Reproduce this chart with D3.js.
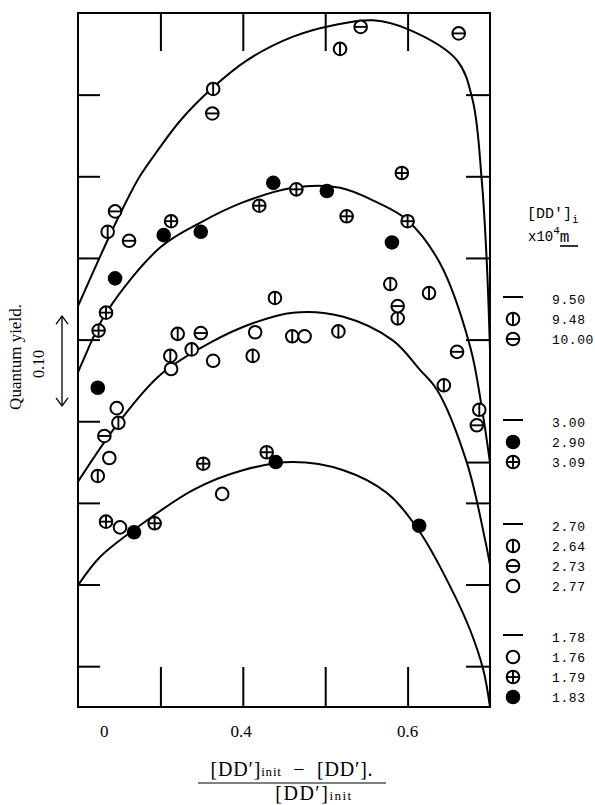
<!DOCTYPE html>
<html><head><meta charset="utf-8">
<script src="https://cdn.jsdelivr.net/npm/d3@7"></script>
<style>body{margin:0;background:#fff}svg{display:block}</style>
</head><body><svg id="c" width="595" height="805"></svg>
<script>
// ---- data (x = fraction reacted, y = quantum yield, arbitrary offset) ----
const xTicks = [0.2, 0.3, 0.4, 0.5, 0.6, 0.7];
const yTicksLeft = [0.05, 0.15, 0.25, 0.35, 0.45, 0.55, 0.65, 0.75];
const yTicksRight = [0.05, 0.15, 0.25, 0.30, 0.45, 0.55, 0.65, 0.75];
const xTickLabels = ["0", "0.4", "0.6"];
const xTickLabelAt = [0.232, 0.398, 0.6];

const curve950 = [[0.200,0.491],[0.236,0.572],[0.257,0.616],[0.275,0.650],[0.297,0.682],[0.324,0.718],[0.363,0.758],[0.405,0.792],[0.461,0.821],[0.510,0.835],[0.558,0.841],[0.603,0.829],[0.660,0.792],[0.679,0.743],[0.690,0.645],[0.696,0.547],[0.700,0.437]];
const curve300 = [[0.200,0.410],[0.206,0.424],[0.235,0.484],[0.300,0.563],[0.348,0.593],[0.400,0.618],[0.461,0.636],[0.518,0.636],[0.563,0.618],[0.600,0.596],[0.639,0.544],[0.676,0.441],[0.690,0.367],[0.700,0.299]];
const curve270 = [[0.200,0.276],[0.249,0.348],[0.300,0.407],[0.360,0.446],[0.412,0.470],[0.461,0.483],[0.522,0.478],[0.582,0.449],[0.615,0.413],[0.636,0.388],[0.672,0.299],[0.694,0.205],[0.700,0.174]];
const curve178 = [[0.200,0.149],[0.227,0.184],[0.272,0.220],[0.340,0.266],[0.400,0.290],[0.461,0.300],[0.522,0.290],[0.575,0.262],[0.615,0.214],[0.651,0.149],[0.676,0.094],[0.692,0.045],[0.700,0.000]];

const pts948 = [[0.364,0.757],[0.518,0.806],[0.236,0.582],[0.579,0.518],[0.588,0.476],[0.626,0.507],[0.644,0.394],[0.687,0.364]];
const pts1000 = [[0.363,0.727],[0.543,0.833],[0.662,0.825],[0.245,0.607],[0.262,0.571],[0.588,0.491],[0.660,0.435],[0.684,0.345]];
const pts290 = [[0.437,0.642],[0.502,0.632],[0.304,0.578],[0.349,0.582],[0.581,0.569],[0.245,0.525],[0.224,0.391]];
const pts309 = [[0.465,0.634],[0.593,0.654],[0.420,0.614],[0.313,0.595],[0.526,0.601],[0.600,0.595],[0.234,0.483],[0.225,0.461]];
const pts264 = [[0.439,0.501],[0.321,0.457],[0.460,0.454],[0.516,0.460],[0.338,0.438],[0.312,0.430],[0.412,0.430],[0.249,0.348],[0.224,0.283]];
const pts273 = [[0.349,0.458],[0.232,0.332]];
const pts277 = [[0.415,0.459],[0.475,0.454],[0.364,0.424],[0.313,0.414],[0.247,0.366],[0.238,0.305]];
const pts176 = [[0.375,0.261],[0.251,0.220]];
const pts179 = [[0.429,0.312],[0.352,0.298],[0.234,0.227],[0.293,0.225]];
const pts183 = [[0.440,0.300],[0.268,0.214],[0.614,0.222]];

const legendLabels = [["9.50","9.48","10.00"],["3.00","2.90","3.09"],["2.70","2.64","2.73","2.77"],["1.78","1.76","1.79","1.83"]];
const legendSymbols = [["line","phi","theta"],["line","filled","plus"],["line","phi","theta","open"],["line","open","plus","filled"]];

// ---- drawing ----
const svg = d3.select("#c");
const L = 78, R = 490, T = 13, B = 707;
const x = d3.scaleLinear().domain([0.2, 0.7]).range([L, R]);
const y = d3.scaleLinear().domain([0, 0.85]).range([B, T]);
const serif = "'Liberation Serif','Times New Roman',serif";
const mono = "'Liberation Mono','DejaVu Sans Mono',monospace";

// frame
svg.append("rect").attr("x", L).attr("y", T).attr("width", R - L).attr("height", B - T)
  .attr("fill", "none").attr("stroke", "#000").attr("stroke-width", 2);

// ticks
const inner = xTicks.slice(1, -1);
svg.append("g").call(d3.axisTop(x).tickValues(inner).tickSize(-38).tickFormat(""))
  .attr("transform", `translate(0,${T})`);
svg.append("g").call(d3.axisBottom(x).tickValues(inner).tickSize(-40).tickFormat(""))
  .attr("transform", `translate(0,${B})`);
svg.append("g").call(d3.axisLeft(y).tickValues(yTicksLeft).tickSize(-22).tickFormat(""))
  .attr("transform", `translate(${L},0)`);
svg.append("g").call(d3.axisRight(y).tickValues(yTicksRight).tickSize(-24).tickFormat(""))
  .attr("transform", `translate(${R},0)`);
svg.selectAll(".domain").remove();
svg.selectAll(".tick line").attr("stroke", "#000").attr("stroke-width", 2);

// x tick labels
svg.append("g").selectAll("text").data(xTickLabels).join("text")
  .attr("x", (d, i) => x(xTickLabelAt[i])).attr("y", 737)
  .attr("text-anchor", "middle").attr("font-family", serif).attr("font-size", 17)
  .text(d => d);

// curves
const line = d3.line().x(d => x(d[0])).y(d => y(d[1])).curve(d3.curveCatmullRom.alpha(0.5));
[curve950, curve300, curve270, curve178].forEach(c =>
  svg.append("path").attr("d", line(c)).attr("fill", "none").attr("stroke", "#000").attr("stroke-width", 2));

// markers
function marker(g, kind) {
  const r = 6.3;
  g.append("circle").attr("r", r).attr("fill", kind === "filled" ? "#000" : "#fff")
    .attr("stroke", "#000").attr("stroke-width", 2);
  if (kind === "phi" || kind === "plus")
    g.append("line").attr("x1", 0).attr("x2", 0).attr("y1", -r).attr("y2", r).attr("stroke", "#000").attr("stroke-width", 1.9);
  if (kind === "theta" || kind === "plus")
    g.append("line").attr("x1", -r).attr("x2", r).attr("y1", 0).attr("y2", 0).attr("stroke", "#000").attr("stroke-width", 1.9);
}
const series = [[pts948,"phi"],[pts1000,"theta"],[pts290,"filled"],[pts309,"plus"],[pts264,"phi"],[pts273,"theta"],[pts277,"open"],[pts176,"open"],[pts179,"plus"],[pts183,"filled"]];
series.forEach(([pts, kind]) => {
  svg.append("g").selectAll("g").data(pts).join("g")
    .attr("transform", d => `translate(${x(d[0])},${y(d[1])})`)
    .each(function () { marker(d3.select(this), kind); });
});

// y label + scale arrow
svg.append("text").attr("transform", "translate(21,357) rotate(-90)").attr("text-anchor", "middle")
  .attr("font-family", serif).attr("font-size", 17).text("Quantum yield.");
svg.append("text").attr("transform", "translate(44,364) rotate(-90)").attr("text-anchor", "middle")
  .attr("font-family", serif).attr("font-size", 16).text("0.10");
const ay0 = 361 - (y(0) - y(0.1)) / 2 - 4, ay1 = 361 + (y(0) - y(0.1)) / 2 + 4;
svg.append("line").attr("x1", 62).attr("x2", 62).attr("y1", ay0).attr("y2", ay1).attr("stroke", "#000").attr("stroke-width", 1.3);
svg.append("path").attr("d", `M56,${ay0 + 8}L62,${ay0}L68,${ay0 + 8}M56,${ay1 - 8}L62,${ay1}L68,${ay1 - 8}`)
  .attr("fill", "none").attr("stroke", "#000").attr("stroke-width", 1.3);

// x axis title (fraction)
const num = svg.append("text").attr("x", 292).attr("y", 776).attr("text-anchor", "middle")
  .attr("font-family", serif).attr("font-size", 20).attr("letter-spacing", 0.8);
num.append("tspan").text("[DD′]");
num.append("tspan").attr("font-size", 13).text("init");
num.append("tspan").text("\u00A0\u00A0−\u00A0\u00A0[DD′].");
svg.append("line").attr("x1", 198).attr("x2", 386).attr("y1", 783).attr("y2", 783).attr("stroke", "#000").attr("stroke-width", 1.2);
const den = svg.append("text").attr("x", 314).attr("y", 800).attr("text-anchor", "middle")
  .attr("font-family", serif).attr("font-size", 20).attr("letter-spacing", 1.5);
den.append("tspan").text("[DD′]");
den.append("tspan").attr("font-size", 13).text("init");

// legend header
const hd = svg.append("text").attr("x", 527).attr("y", 218).attr("font-family", mono).attr("font-size", 15);
hd.append("tspan").text("[DD']");
hd.append("tspan").attr("font-size", 11).attr("dy", 5).text("i");
const hd2 = svg.append("text").attr("x", 528).attr("y", 241).attr("font-family", mono).attr("font-size", 14);
hd2.append("tspan").text("x10");
hd2.append("tspan").attr("font-size", 11).attr("dy", -7).text("4");
hd2.append("tspan").attr("dy", 8).attr("font-size", 16).text("m");
svg.append("line").attr("x1", 560).attr("x2", 578).attr("y1", 246).attr("y2", 246).attr("stroke", "#000").attr("stroke-width", 1.6);

// legend entries
const groupTop = [299, 422, 526, 637];
legendLabels.forEach((grp, gi) => {
  grp.forEach((lab, ri) => {
    const cy = groupTop[gi] + ri * 20;
    const kind = legendSymbols[gi][ri];
    if (kind === "line") {
      svg.append("line").attr("x1", 503).attr("x2", 523).attr("y1", cy - 2).attr("y2", cy - 2).attr("stroke", "#000").attr("stroke-width", 2);
    } else {
      marker(svg.append("g").attr("transform", `translate(513,${cy})`), kind);
    }
    svg.append("text").attr("x", 552).attr("y", cy + 5).attr("font-family", mono).attr("font-size", 13)
      .attr("letter-spacing", 0.6).text(lab);
  });
});
</script></body></html>
